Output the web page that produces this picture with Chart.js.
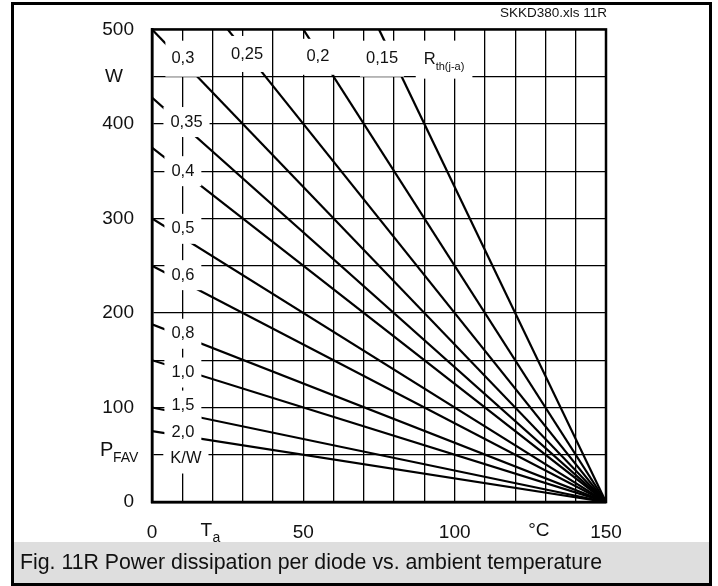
<!DOCTYPE html>
<html>
<head>
<meta charset="utf-8">
<script src="https://cdn.jsdelivr.net/npm/chart.js@4.4.1/dist/chart.umd.min.js"></script>
<style>
  body { margin: 0; background: #fff; }
  canvas { display: block; }
</style>
</head>
<body>
<canvas id="chart" width="718" height="586"></canvas>
<script>
// Rth(j-a) curves: each line runs from its start point on the plot edge down to (150 °C, 0 W)
const rthLabels = ['0,3', '0,25', '0,2', '0,15', '0,35', '0,4', '0,5', '0,6', '0,8', '1,0', '1,5', '2,0'];
const startTa = [0, 25, 50, 75, 0, 0, 0, 0, 0, 0, 0, 0];
const startP = [500, 500, 500, 500, 428, 375, 300, 250, 188, 150, 100, 75];
const endTa = 150;
const endP = 0;

const xTickLabels = [0, 50, 100, 150];
const yTickLabels = [0, 100, 200, 300, 400, 500];

const FONT = '"Liberation Sans", Arial, sans-serif';

// label boxes (white background hides grid and curves beneath)
const curveLabels = [
    { text: '0,3', ta: 10.2, p: 469, pad: 6, h: 36 },
    { text: '0,25', ta: 31.4, p: 474, pad: 6, h: 36 },
    { text: '0,2', ta: 54.8, p: 471, pad: 6, h: 36 },
    { text: '0,15', ta: 76, p: 469, pad: 6, h: 36 },
    { text: 'R', sub: 'th(j-a)', ta: 96.5, p: 468, pad: 8, h: 38 },
    { text: '0,35', ta: 11.4, p: 402, pad: 7, h: 30 },
    { text: '0,4', ta: 10.2, p: 350, pad: 7, h: 30 },
    { text: '0,5', ta: 10.2, p: 289, pad: 7, h: 30 },
    { text: '0,6', ta: 10.2, p: 240, pad: 7, h: 30 },
    { text: '0,8', ta: 10.2, p: 178, pad: 7, h: 30 },
    { text: '1,0', ta: 10.2, p: 137, pad: 7, h: 30 },
    { text: '1,5', ta: 10.2, p: 102, pad: 7, h: 30 },
    { text: '2,0', ta: 10.2, p: 74, pad: 7, h: 30 },
    { text: 'K/W', ta: 11.2, p: 46, pad: 7, h: 30 }
];

const datasets = rthLabels.map((r, i) => ({
    label: r,
    data: [{ x: startTa[i], y: startP[i] }, { x: endTa, y: endP }],
    showLine: true,
    borderColor: '#000',
    borderWidth: 2.2,
    pointRadius: 0,
    fill: false
}));

const annotPlugin = {
    id: 'annot',
    afterDatasetsDraw(chart) {
        const { ctx, chartArea: a, scales: { x, y } } = chart;
        ctx.save();
        curveLabels.forEach(l => {
            ctx.font = '16.5px ' + FONT;
            const w = ctx.measureText(l.text).width;
            let sw = 0;
            if (l.sub) {
                ctx.font = '11px ' + FONT;
                sw = ctx.measureText(l.sub).width;
            }
            const total = w + sw;
            const cx = x.getPixelForValue(l.ta);
            const cy = y.getPixelForValue(l.p);
            ctx.fillStyle = '#fff';
            ctx.fillRect(cx - total / 2 - l.pad, cy - l.h / 2, total + 2 * l.pad, l.h);
            ctx.fillStyle = '#111';
            ctx.textAlign = 'left';
            ctx.textBaseline = 'middle';
            ctx.font = '16.5px ' + FONT;
            ctx.fillText(l.text, cx - total / 2, cy);
            if (l.sub) {
                ctx.font = '11px ' + FONT;
                ctx.fillText(l.sub, cx - total / 2 + w, cy + 7);
            }
        });
        // plot frame
        ctx.strokeStyle = '#000';
        ctx.lineWidth = 2.5;
        ctx.strokeRect(a.left, a.top, a.right - a.left, a.bottom - a.top);
        ctx.restore();
    },
    afterDraw(chart) {
        const { ctx, chartArea: a, scales: { x, y } } = chart;
        ctx.save();
        ctx.fillStyle = '#111';
        ctx.textBaseline = 'middle';

        // axis units / names
        ctx.textAlign = 'center';
        ctx.font = '19px ' + FONT;
        ctx.fillText('W', a.left - 38, y.getPixelForValue(450));

        ctx.textAlign = 'left';
        ctx.font = '20px ' + FONT;
        const pY = y.getPixelForValue(55);
        ctx.fillText('P', a.left - 52, pY);
        ctx.font = '14px ' + FONT;
        ctx.fillText('FAV', a.left - 39, pY + 8);

        const tx = x.getPixelForValue(18);
        const axY = a.bottom + 29;
        ctx.font = '19px ' + FONT;
        ctx.fillText('T', tx - 6, axY);
        ctx.font = '14px ' + FONT;
        ctx.fillText('a', tx + 6, axY + 7);

        ctx.textAlign = 'center';
        ctx.font = '19px ' + FONT;
        ctx.fillText('°C', x.getPixelForValue(127.8), axY);

        // file tag
        ctx.textAlign = 'right';
        ctx.font = '13.5px ' + FONT;
        ctx.fillText('SKKD380.xls 11R', a.right + 1, 13);

        // caption band
        ctx.fillStyle = '#dedede';
        ctx.fillRect(14, 542, 695, 41);
        ctx.fillStyle = '#111';
        ctx.textAlign = 'left';
        ctx.font = '21.3px ' + FONT;
        ctx.fillText('Fig. 11R Power dissipation per diode vs. ambient temperature', 20, 563);

        // outer frame
        ctx.strokeStyle = '#000';
        ctx.lineWidth = 3;
        ctx.strokeRect(12.5, 3.5, 698, 581);
        ctx.restore();
    }
};

new Chart(document.getElementById('chart'), {
    type: 'scatter',
    data: { datasets: datasets },
    options: {
        responsive: false,
        animation: false,
        devicePixelRatio: 1,
        layout: { padding: { left: 0, right: 112, top: 28, bottom: 44 } },
        plugins: { legend: { display: false }, tooltip: { enabled: false } },
        scales: {
            x: {
                type: 'linear',
                min: 0,
                max: 150,
                afterFit: s => { s.height = 40; },
                ticks: {
                    stepSize: 10,
                    autoSkip: false,
                    maxRotation: 0,
                    padding: 19,
                    color: '#111',
                    font: { family: FONT, size: 19 },
                    callback: v => xTickLabels.includes(v) ? v : ''
                },
                grid: { color: '#000', lineWidth: 1.3, drawTicks: false },
                border: { color: '#000', width: 2.5 }
            },
            y: {
                type: 'linear',
                min: 0,
                max: 500,
                afterFit: s => { s.width = 152; },
                ticks: {
                    stepSize: 50,
                    autoSkip: false,
                    padding: 18,
                    color: '#111',
                    font: { family: FONT, size: 19 },
                    callback: v => yTickLabels.includes(v) ? v : ''
                },
                grid: { color: '#000', lineWidth: 1.3, drawTicks: false },
                border: { color: '#000', width: 2.5 }
            }
        }
    },
    plugins: [annotPlugin]
});
</script>
</body>
</html>
